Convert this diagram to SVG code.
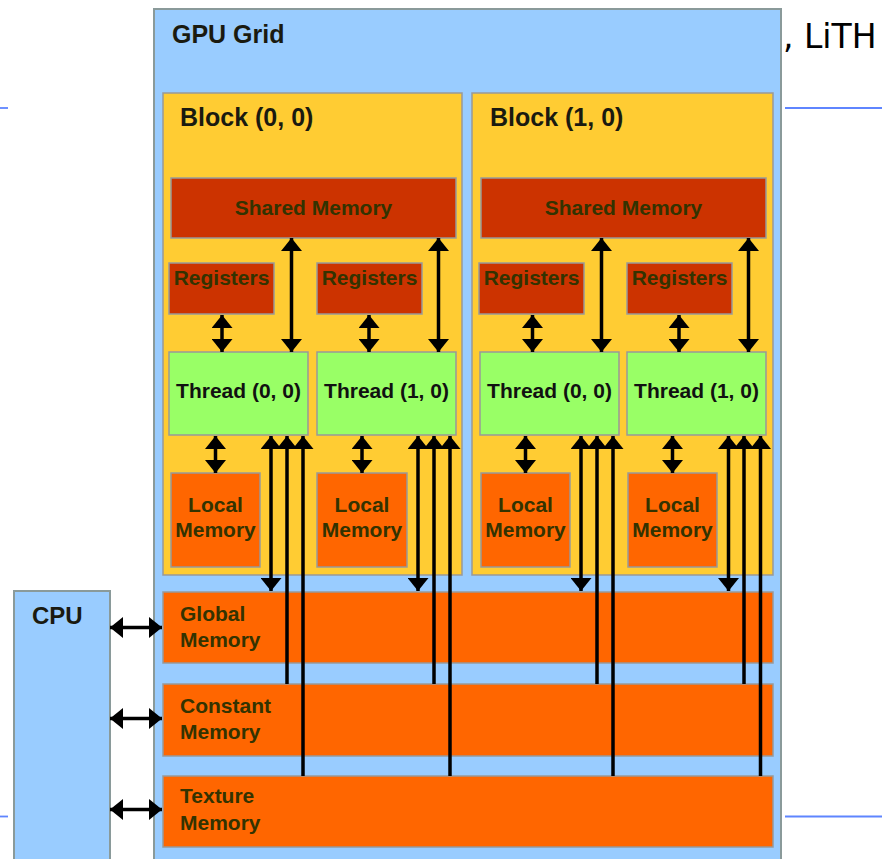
<svg xmlns="http://www.w3.org/2000/svg" width="882" height="859" viewBox="0 0 882 859">
<defs>
<style>
.grid{fill:#99CCFF;stroke:#8a9a9a;stroke-width:2}
.block{fill:#FFCC33;stroke:#999999;stroke-width:1.5}
.red{fill:#CC3300;stroke:#999999;stroke-width:1.5}
.thr{fill:#99FF66;stroke:#999999;stroke-width:1.5}
.org{fill:#FF6600;stroke:#999999;stroke-width:1.5}
.t{font-family:"Liberation Sans",Arial,sans-serif;font-weight:bold}
.big{font-size:25px;fill:#1a1a10}
.lab{font-size:21px;fill:#333300}
.tl{font-size:21px;fill:#111111}
.c{text-anchor:middle}
.conn line{stroke:#000;stroke-width:3.5}
.sep{stroke:#5f85ff;stroke-width:1.8}
</style>
<marker id="ah" markerUnits="userSpaceOnUse" markerWidth="13" markerHeight="21" viewBox="0 0 13 21" refX="13" refY="10.5" orient="auto-start-reverse">
<path d="M0,0 L13,10.5 L0,21 Z" fill="#000"/>
</marker>
</defs>
<rect width="882" height="859" fill="#FFFFFF"/>
<g id="separators">
<line class="sep" x1="0" y1="108" x2="8" y2="108"/>
<line class="sep" x1="785" y1="108" x2="882" y2="108"/>
<line class="sep" x1="0" y1="816.5" x2="8" y2="816.5"/>
<line class="sep" x1="785" y1="816.5" x2="882" y2="816.5"/>
</g>
<text x="783" y="48" style="font-family:'DejaVu Sans',Verdana,sans-serif;font-size:33px;fill:#000">, LiTH</text>
<g id="gpu-grid">
<rect class="grid" x="154" y="9" width="627" height="870"/>
<text class="t big" x="172" y="43">GPU Grid</text>
</g>
<g id="cpu">
<rect class="grid" x="14" y="591" width="96" height="290"/>
<text class="t" x="32" y="624" style="font-size:24px;fill:#1a1a10">CPU</text>
</g>
<g id="block-0-0">
<rect class="block" x="163" y="93" width="299" height="482"/>
<text class="t big" x="180" y="126">Block (0, 0)</text>
</g>
<g id="block-1-0">
<rect class="block" x="472" y="93" width="301" height="482"/>
<text class="t big" x="490" y="126">Block (1, 0)</text>
</g>
<g id="b0-shared">
<rect class="red" x="171" y="178" width="285" height="60"/>
<text class="t lab c" x="313.5" y="215">Shared Memory</text>
</g>
<g id="b1-shared">
<rect class="red" x="481" y="178" width="285" height="60"/>
<text class="t lab c" x="623.5" y="215">Shared Memory</text>
</g>
<g id="b0-reg0">
<rect class="red" x="169" y="263" width="105" height="51"/>
<text class="t lab c" x="221.5" y="285">Registers</text>
</g>
<g id="b0-reg1">
<rect class="red" x="317" y="263" width="105" height="51"/>
<text class="t lab c" x="369.5" y="285">Registers</text>
</g>
<g id="b1-reg0">
<rect class="red" x="479" y="263" width="105" height="51"/>
<text class="t lab c" x="531.5" y="285">Registers</text>
</g>
<g id="b1-reg1">
<rect class="red" x="627" y="263" width="105" height="51"/>
<text class="t lab c" x="679.5" y="285">Registers</text>
</g>
<g id="b0-thread0">
<rect class="thr" x="169" y="352" width="139" height="83"/>
<text class="t tl c" x="238.5" y="398">Thread (0, 0)</text>
</g>
<g id="b0-thread1">
<rect class="thr" x="317" y="352" width="139" height="83"/>
<text class="t tl c" x="386.5" y="398">Thread (1, 0)</text>
</g>
<g id="b1-thread0">
<rect class="thr" x="480" y="352" width="139" height="83"/>
<text class="t tl c" x="549.5" y="398">Thread (0, 0)</text>
</g>
<g id="b1-thread1">
<rect class="thr" x="627" y="352" width="139" height="83"/>
<text class="t tl c" x="696.5" y="398">Thread (1, 0)</text>
</g>
<g id="b0-local0">
<rect class="org" x="171" y="473" width="89" height="94"/>
<text class="t lab c" x="215.5" y="511.5">Local</text>
<text class="t lab c" x="215.5" y="536.5">Memory</text>
</g>
<g id="b0-local1">
<rect class="org" x="317" y="473" width="90" height="94"/>
<text class="t lab c" x="362" y="511.5">Local</text>
<text class="t lab c" x="362" y="536.5">Memory</text>
</g>
<g id="b1-local0">
<rect class="org" x="481" y="473" width="89" height="94"/>
<text class="t lab c" x="525.5" y="511.5">Local</text>
<text class="t lab c" x="525.5" y="536.5">Memory</text>
</g>
<g id="b1-local1">
<rect class="org" x="628" y="473" width="89" height="94"/>
<text class="t lab c" x="672.5" y="511.5">Local</text>
<text class="t lab c" x="672.5" y="536.5">Memory</text>
</g>
<g id="global-memory">
<rect class="org" x="163" y="592" width="610" height="71"/>
<text class="t lab" x="180" y="621">Global</text>
<text class="t lab" x="180" y="646.5">Memory</text>
</g>
<g id="constant-memory">
<rect class="org" x="163" y="684" width="610" height="72"/>
<text class="t lab" x="180" y="713">Constant</text>
<text class="t lab" x="180" y="738.5">Memory</text>
</g>
<g id="texture-memory">
<rect class="org" x="163" y="776" width="610" height="71"/>
<text class="t lab" x="180" y="803">Texture</text>
<text class="t lab" x="180" y="830">Memory</text>
</g>
<g id="connectors" class="conn">
<line x1="222" y1="315" x2="222" y2="352" marker-start="url(#ah)" marker-end="url(#ah)"/>
<line x1="369" y1="315" x2="369" y2="352" marker-start="url(#ah)" marker-end="url(#ah)"/>
<line x1="532.5" y1="315" x2="532.5" y2="352" marker-start="url(#ah)" marker-end="url(#ah)"/>
<line x1="679" y1="315" x2="679" y2="352" marker-start="url(#ah)" marker-end="url(#ah)"/>
<line x1="291.5" y1="238" x2="291.5" y2="352" marker-start="url(#ah)" marker-end="url(#ah)"/>
<line x1="438.5" y1="238" x2="438.5" y2="352" marker-start="url(#ah)" marker-end="url(#ah)"/>
<line x1="601.5" y1="238" x2="601.5" y2="352" marker-start="url(#ah)" marker-end="url(#ah)"/>
<line x1="748.5" y1="238" x2="748.5" y2="352" marker-start="url(#ah)" marker-end="url(#ah)"/>
<line x1="215.5" y1="436" x2="215.5" y2="473" marker-start="url(#ah)" marker-end="url(#ah)"/>
<line x1="362" y1="436" x2="362" y2="473" marker-start="url(#ah)" marker-end="url(#ah)"/>
<line x1="525.5" y1="436" x2="525.5" y2="473" marker-start="url(#ah)" marker-end="url(#ah)"/>
<line x1="672.5" y1="436" x2="672.5" y2="473" marker-start="url(#ah)" marker-end="url(#ah)"/>
<line x1="271" y1="436" x2="271" y2="591" marker-start="url(#ah)" marker-end="url(#ah)"/>
<line x1="418" y1="436" x2="418" y2="591" marker-start="url(#ah)" marker-end="url(#ah)"/>
<line x1="581" y1="436" x2="581" y2="591" marker-start="url(#ah)" marker-end="url(#ah)"/>
<line x1="728.5" y1="436" x2="728.5" y2="591" marker-start="url(#ah)" marker-end="url(#ah)"/>
<line x1="287" y1="684" x2="287" y2="436" marker-end="url(#ah)"/>
<line x1="434" y1="684" x2="434" y2="436" marker-end="url(#ah)"/>
<line x1="597" y1="684" x2="597" y2="436" marker-end="url(#ah)"/>
<line x1="744" y1="684" x2="744" y2="436" marker-end="url(#ah)"/>
<line x1="303" y1="776" x2="303" y2="436" marker-end="url(#ah)"/>
<line x1="450" y1="776" x2="450" y2="436" marker-end="url(#ah)"/>
<line x1="613" y1="776" x2="613" y2="436" marker-end="url(#ah)"/>
<line x1="760.5" y1="776" x2="760.5" y2="436" marker-end="url(#ah)"/>
<line x1="110" y1="627.5" x2="162" y2="627.5" marker-start="url(#ah)" marker-end="url(#ah)"/>
<line x1="110" y1="718.5" x2="162" y2="718.5" marker-start="url(#ah)" marker-end="url(#ah)"/>
<line x1="110" y1="809.5" x2="162" y2="809.5" marker-start="url(#ah)" marker-end="url(#ah)"/>
</g>
</svg>
